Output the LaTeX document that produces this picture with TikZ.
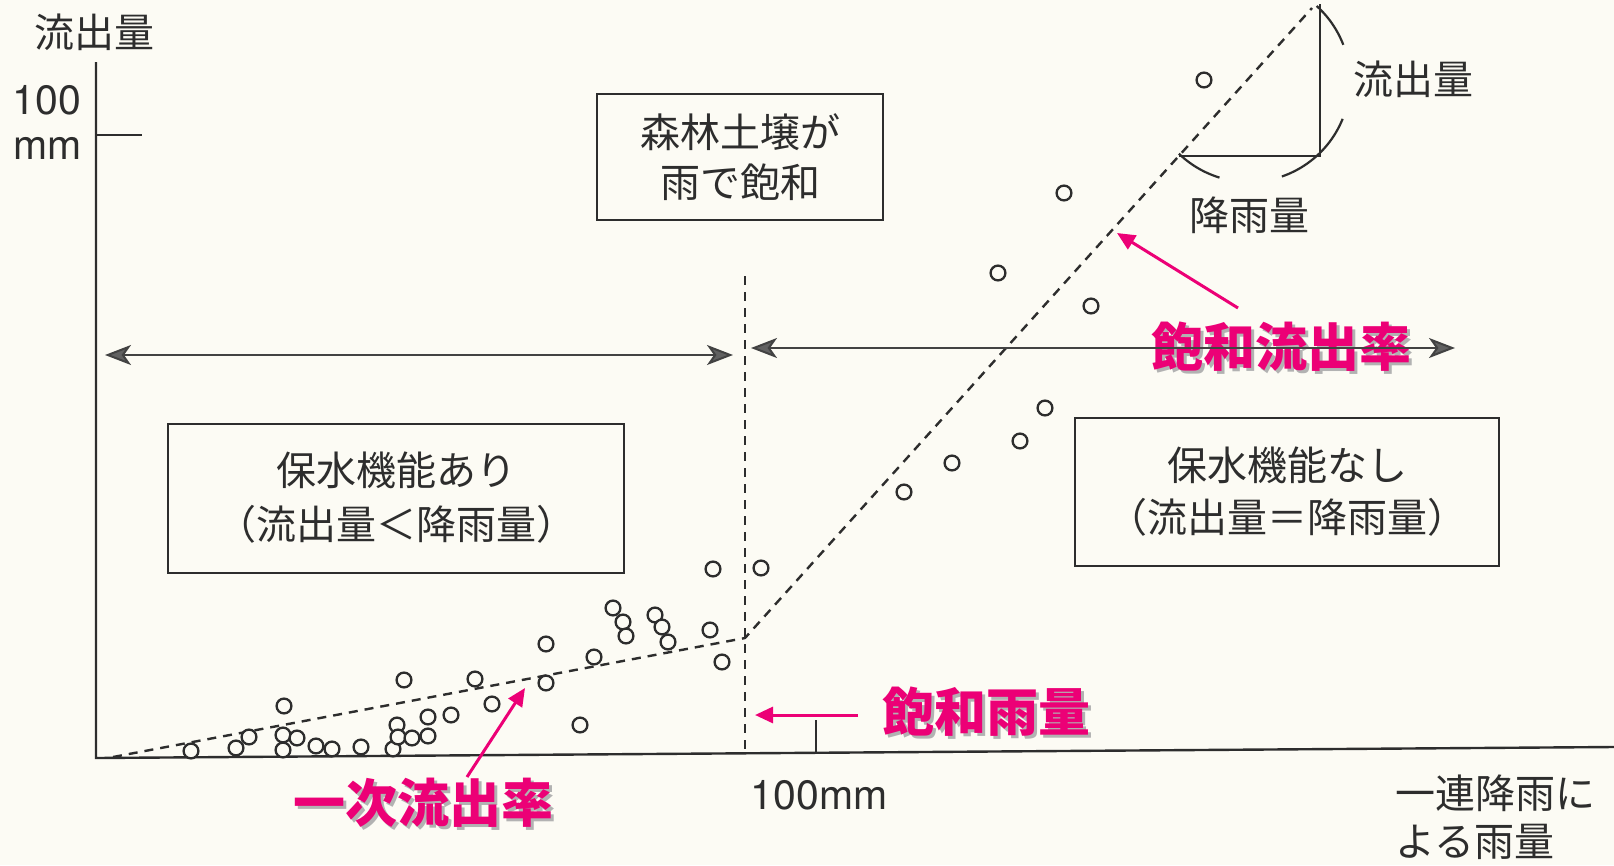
\documentclass[tikz,border=0pt]{standalone}
\usepackage{fontspec}
\setmainfont{TeX Gyre Heros}
\newfontfamily\jp{Noto Sans CJK JP}
\usetikzlibrary{arrows.meta}
\definecolor{ink}{RGB}{45,45,45}
\definecolor{pinkc}{RGB}{236,0,118}
\definecolor{paper}{RGB}{252,251,244}
\tikzset{
 ax/.style={line width=2.4pt, draw=ink},
 dashln/.style={line width=2.4pt, draw=ink, dash pattern=on 9pt off 7pt},
 dot/.style={line width=2.3pt, draw=ink, fill=paper},
 box/.style={draw=ink, line width=2pt, inner sep=0pt, align=center, text=ink, font=\jp\fontsize{40}{50}\selectfont},
 lbl/.style={text=ink, inner sep=0pt, align=left, font=\jp\fontsize{40}{49}\selectfont},
 num/.style={text=ink, inner sep=0pt, font=\fontsize{41}{49}\selectfont},
 dbl/.style={line width=2pt, draw=ink!90, {Stealth[length=26pt,width=20pt,inset=7pt,fill=ink!75]}-{Stealth[length=26pt,width=20pt,inset=7pt,fill=ink!75]}},
 pinkarr/.style={line width=3pt, draw=pinkc, -{Triangle[length=18pt,width=16pt]}},
 ptxt/.style={text=pinkc, inner sep=0pt, font=\jp\bfseries\fontsize{52}{52}\selectfont},
 pshadow/.style={text=black!30, inner sep=0pt, font=\jp\bfseries\fontsize{52}{52}\selectfont},
}
\begin{document}
\begin{tikzpicture}[x=1pt,y=-1pt]
\fill[paper] (0,0) rectangle (1614,865);
\useasboundingbox (0,0) rectangle (1614,865);

% axes
\coordinate (O) at (96,758);
\coordinate (Yt) at (96,62);
\coordinate (Xe) at (1614,747);
\draw[ax] (Yt) -- (O) -- (Xe);
\coordinate (ytick) at (142,135);
\draw[ax] (96,135) -- (ytick);
\coordinate (xtickT) at (816,720);
\coordinate (xtickB) at (816,753);
\draw[ax] (xtickT) -- (xtickB);

% axis labels
\node[lbl] (ylab) at (94,32) {流出量};
\node[num] (y100) at (47,100) {100};
\node[num] (ymm) at (48,148) {mm};
\node[num] (x100) at (819,795) {100mm};
\node[lbl, anchor=west] (xl1) at (1395,793) {一連降雨に};
\node[lbl, anchor=west] (xl2) at (1395,842) {よる雨量};

% saturation vertical dashed line
\coordinate (vT) at (745,276);
\coordinate (vB) at (745,754);
\draw[dashln] (vT) -- (vB);

% rate lines
\coordinate (r0) at (113,757);
\coordinate (rk) at (745,638);
\coordinate (r1) at (1312,8);
\draw[dashln] (r0) -- (rk) -- (r1);

% triangle and brackets
\coordinate (tA) at (1179,156);
\coordinate (tB) at (1320,156);
\coordinate (tC) at (1320,4);
\draw[ax, line width=2.2pt] (tA) -- (tB) -- (tC);
\draw[ax, line width=2.2pt] plot[domain=48:21, samples=24] ({1249+101*cos(\x)},{81-101*sin(\x)});
\draw[ax, line width=2.2pt] plot[domain=-22:-71, samples=30] ({1249+101*cos(\x)},{81-101*sin(\x)});
\draw[ax, line width=2.2pt] plot[domain=-107:-134, samples=20] ({1249+101*cos(\x)},{81-101*sin(\x)});
\node[lbl] (tOut) at (1413,79) {流出量};
\node[lbl] (tRain) at (1249,215) {降雨量};

% boxes
\node[box, minimum width=286pt, minimum height=126pt] (b1) at (740,157) {森林土壌が\\雨で飽和};
\node[box, minimum width=456pt, minimum height=149pt, font=\jp\fontsize{40}{54}\selectfont] (b2) at (396,498) {保水機能あり\\（流出量＜降雨量）};
\node[box, minimum width=424pt, minimum height=148pt, font=\jp\fontsize{40}{52}\selectfont] (b3) at (1287,492) {保水機能なし\\（流出量＝降雨量）};

% scatter points
\foreach \p in {(191,751),(236,748),(249,737),(284,706),(283,735),(283,750),(297,738),(316,746),(332,749),(361,747),(393,749),(397,725),(398,737),(412,738),(428,717),(428,736),(451,715),(404,680),(475,679),(492,704),(546,644),(546,683),(580,725),(594,657),(613,608),(623,622),(626,636),(655,615),(662,627),(668,642),(713,569),(761,568),(710,630),(722,662),(1064,193),(998,273),(1091,306),(1045,408),(1020,441),(952,463),(904,492),(1204,80)}
  \draw[dot] \p circle[radius=7.4pt];

% pink labels
\node[pshadow] at (989,715) {飽和雨量};
\node[ptxt] (satR) at (986,712) {飽和雨量};
\node[pshadow] at (426,806) {一次流出率};
\node[ptxt] (firstR) at (423,803) {一次流出率};
\node[pshadow] at (1284,350) {飽和流出率};
\node[ptxt] (satO) at (1281,347) {飽和流出率};

% double arrows
\coordinate (la) at (105,355);
\coordinate (lb) at (733,355);
\coordinate (ra) at (751,348);
\coordinate (rb) at (1455,348);
\draw[dbl] (la) -- (lb);
\draw[dbl] (ra) -- (rb);

% pink arrows
\coordinate (p1s) at (858,715);
\coordinate (p1e) at (755,715);
\draw[pinkarr] (p1s) -- (p1e);
\coordinate (p2s) at (467,777);
\coordinate (p2e) at (525,688);
\draw[pinkarr] (p2s) -- (p2e);
\coordinate (p3s) at (1238,308);
\coordinate (p3e) at (1117,233);
\draw[pinkarr] (p3s) -- (p3e);
\end{tikzpicture}
\end{document}
